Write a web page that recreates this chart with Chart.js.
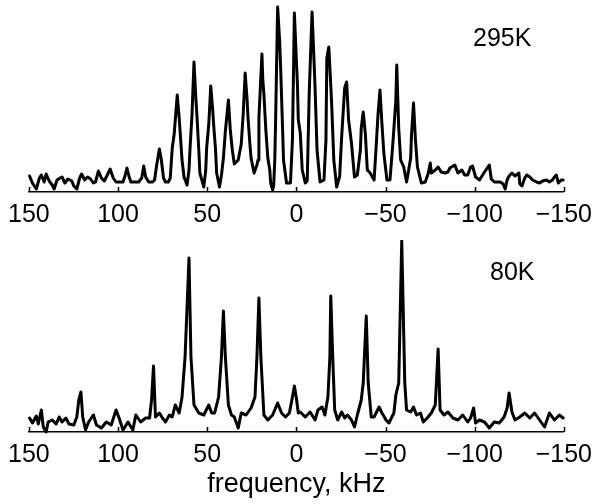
<!DOCTYPE html>
<html>
<head>
<meta charset="utf-8">
<script src="https://cdn.jsdelivr.net/npm/chart.js@4/dist/chart.umd.min.js"></script>
<style>
  html, body { margin: 0; padding: 0; background: #fff; }
  #wrap { position: relative; width: 600px; height: 504px; }
  #top { position: absolute; left: 0; top: 0; }
  #bot { position: absolute; left: 0; top: 240px; }
</style>
</head>
<body>
<div id="wrap">
  <canvas id="top" width="600" height="240"></canvas>
  <canvas id="bot" width="600" height="264"></canvas>
</div>
<script>
// frequency axis ticks (kHz)
var tickValues = [150, 100, 50, 0, -50, -100, -150];
var temps = ["295K", "80K"];

// 295 K spectrum: frequency (kHz) and intensity (a.u.)
var freq295 = [149.6,148.0,145.8,144.1,143.0,141.4,140.3,138.6,136.9,135.8,134.2,132.5,131.4,129.8,128.1,125.9,124.8,123.1,121.5,120.4,
  118.7,117.1,115.4,113.8,112.6,111.0,109.3,107.7,106.0,104.4,102.7,101.1,99.4,97.2,96.1,95.0,93.9,92.8,90.6,88.4,
  86.7,85.6,84.5,82.8,80.6,79.5,78.4,76.8,75.7,74.5,73.4,71.8,70.7,69.6,68.5,66.8,65.7,65.2,64.1,63.0,
  61.3,60.2,59.6,58.5,57.4,56.3,55.8,54.7,54.1,51.9,50.8,50.3,49.1,48.0,46.9,46.4,45.3,44.7,43.1,42.0,
  40.9,39.8,38.1,37.0,35.9,34.8,32.6,30.9,29.8,28.7,27.6,27.1,26.0,25.4,23.7,22.1,21.5,21.0,19.3,18.8,
  18.2,17.1,16.0,14.9,14.4,13.3,12.7,12.1,11.6,10.5,9.4,8.8,7.7,7.2,5.5,3.3,2.2,1.7,1.1,0.0,
  -0.6,-1.1,-2.2,-3.3,-5.0,-6.1,-7.2,-8.8,-9.9,-10.5,-11.6,-13.3,-15.5,-16.6,-17.1,-18.2,-19.3,-19.9,-21.0,-22.6,
  -23.7,-24.3,-25.4,-27.1,-28.2,-29.3,-30.9,-32.6,-34.2,-35.9,-36.4,-37.5,-38.7,-39.8,-41.4,-43.6,-44.7,-45.8,-46.9,-48.0,
  -49.1,-50.8,-52.5,-54.1,-55.8,-56.3,-57.4,-58.5,-60.2,-61.8,-63.0,-64.1,-64.6,-65.7,-66.8,-67.9,-70.1,-72.3,-74.0,-75.1,
  -75.7,-77.9,-79.5,-81.2,-83.4,-85.0,-86.1,-88.9,-90.6,-92.8,-94.4,-96.1,-97.7,-98.8,-100.5,-102.7,-105.5,-108.2,-109.3,-111.0,
  -112.6,-114.3,-116.0,-117.1,-118.2,-119.3,-120.9,-122.6,-124.8,-125.3,-126.5,-128.1,-129.2,-130.9,-132.5,-134.7,-136.4,-138.1,-140.3,-141.9,
  -143.6,-144.7,-145.8,-146.9,-148.5,-149.6];
var int295 = [16,9,3,14,17,10,18,11,7,3,12,14,15,9,13,11,6,3,14,18,
  12,15,13,9,10,21,14,11,17,23,14,10,10,10,16,24,16,10,10,10,
  14,26,15,10,10,12,26,43,32,14,10,10,14,44,58,97,74,61,32,15,
  7,22,44,78,130,92,78,42,19,5,22,44,68,106,82,68,42,19,5,17,
  34,61,92,61,42,28,32,48,78,119,92,74,47,34,19,27,32,74,138,112,
  98,62,34,22,9,2,7,32,74,185,152,124,62,32,9,9,52,108,179,132,
  108,72,59,22,9,11,98,180,132,104,42,10,12,52,134,145,107,84,32,5,
  12,16,55,104,110,72,49,15,17,42,64,80,58,22,19,12,44,78,102,68,
  38,12,12,48,92,127,64,32,25,10,22,34,58,89,52,25,9,10,19,29,
  19,22,25,20,19,20,24,27,19,22,17,17,25,26,15,12,20,27,13,10,
  10,10,8,3,12,16,19,16,19,8,6,14,17,15,12,10,9,11,12,10,
  12,15,17,9,12,12];

// 80 K spectrum: frequency (kHz) and intensity (a.u.)
var freq80 = [149.6,148.0,145.8,144.7,143.0,141.9,140.3,139.2,136.9,134.7,133.0,131.4,129.2,127.5,124.8,123.1,122.0,120.8,119.8,118.2,
  116.5,113.8,112.1,109.3,106.6,103.8,101.1,99.4,97.2,94.4,91.7,90.0,87.3,84.5,82.3,81.2,80.1,79.0,76.8,75.1,
  73.4,71.2,69.6,67.9,65.7,64.1,62.4,60.2,59.1,57.4,54.7,51.9,49.1,47.5,45.8,43.6,42.0,40.9,39.8,38.1,
  36.4,34.8,32.6,30.9,28.2,25.4,23.2,22.1,21.0,19.9,18.2,16.0,13.3,10.5,8.3,6.1,3.9,2.2,1.1,0.0,
  -1.1,-2.2,-5.0,-7.7,-10.5,-12.1,-14.4,-16.0,-17.7,-18.8,-19.3,-20.4,-21.5,-23.2,-25.4,-27.1,-28.7,-30.9,-32.6,-34.2,
  -36.4,-37.5,-39.2,-40.3,-42.0,-43.6,-46.4,-48.0,-50.3,-51.9,-54.7,-55.8,-57.4,-59.1,-60.8,-61.8,-64.1,-65.7,-67.4,-69.6,
  -71.2,-73.4,-75.7,-77.9,-79.5,-80.6,-82.8,-85.0,-87.8,-90.6,-93.3,-96.1,-97.7,-99.4,-100.5,-102.7,-105.5,-108.2,-111.0,-113.8,
  -116.5,-118.2,-119.3,-120.9,-122.6,-125.3,-128.1,-130.9,-133.6,-136.4,-139.2,-141.9,-144.7,-147.5,-149.6];
var int80 = [14,9,16,8,22,5,0,10,12,8,15,10,14,8,7,15,32,40,15,2,
  10,17,7,4,10,7,22,14,2,10,2,17,10,14,14,32,66,15,19,14,
  10,17,15,27,19,35,75,174,75,27,19,17,27,19,19,35,75,121,75,27,
  17,15,4,19,17,24,35,75,134,75,17,12,17,29,19,15,19,35,46,34,
  19,20,15,20,12,22,25,17,35,75,136,75,22,12,20,14,17,12,5,17,
  32,49,116,49,15,15,25,19,12,9,19,37,49,191,49,22,20,25,17,19,
  10,14,19,27,83,22,17,20,14,12,17,10,14,24,9,12,10,4,10,9,
  15,24,39,20,12,15,19,14,19,12,5,19,12,17,14];

function fmtTick(v) {
  return v < 0 ? "\u2212" + Math.abs(v) : String(v);
}

// short tick marks pointing up into the plot
var tickMarks = {
  id: "tickMarks",
  afterDraw: function(chart) {
    var ctx = chart.ctx, sx = chart.scales.x, b = chart.chartArea.bottom;
    ctx.save();
    ctx.strokeStyle = "#000";
    ctx.lineWidth = 1.5;
    ctx.beginPath();
    tickValues.forEach(function(v) {
      var px = Math.round(sx.getPixelForValue(v)) + 0.5;
      ctx.moveTo(px, b);
      ctx.lineTo(px, b - 5);
    });
    ctx.stroke();
    ctx.restore();
  }
};

var tempLabel = {
  id: "tempLabel",
  afterDraw: function(chart, args, opts) {
    var ctx = chart.ctx;
    ctx.save();
    ctx.fillStyle = "#000";
    ctx.font = "25px 'Liberation Sans', Arial, sans-serif";
    ctx.textAlign = "left";
    ctx.textBaseline = "alphabetic";
    ctx.fillText(opts.text, opts.x, opts.y);
    ctx.restore();
  }
};

function makeChart(id, freqs, vals, label, lx, ly, axisH, withTitle) {
  return new Chart(document.getElementById(id), {
    type: "line",
    data: {
      datasets: [{
        data: freqs.map(function(f, i) { return { x: f, y: vals[i] }; }),
        borderColor: "#000",
        borderWidth: 3,
        borderJoinStyle: "round",
        borderCapStyle: "round",
        pointRadius: 0,
        tension: 0,
        clip: false
      }]
    },
    options: {
      responsive: false,
      animation: false,
      layout: { padding: { left: 24, right: 32, top: 0, bottom: 0 } },
      plugins: {
        legend: { display: false },
        tooltip: { enabled: false },
        tempLabel: { text: label, x: lx, y: ly }
      },
      scales: {
        x: {
          type: "linear",
          reverse: true,
          min: -150,
          max: 150,
          afterBuildTicks: function(s) {
            s.ticks = tickValues.map(function(v) { return { value: v }; });
          },
          afterFit: function(s) { s.height = axisH; },
          grid: { display: false, drawTicks: false },
          border: { display: true, color: "#000", width: 1.5 },
          ticks: {
            padding: 8,
            color: "#000",
            autoSkip: false,
            maxRotation: 0,
            font: { family: "'Liberation Sans', Arial, sans-serif", size: 25 },
            callback: fmtTick
          },
          title: {
            display: withTitle,
            text: "frequency, kHz",
            color: "#000",
            padding: { top: 0, bottom: 3 },
            font: { family: "'Liberation Sans', Arial, sans-serif", size: 27 }
          }
        },
        y: { display: false, min: 0, max: 192 }
      }
    },
    plugins: [tickMarks, tempLabel]
  });
}

makeChart("top", freq295, int295, temps[0], 473, 46, 48, false);
makeChart("bot", freq80, int80, temps[1], 490, 40, 72, true);
</script>
</body>
</html>
